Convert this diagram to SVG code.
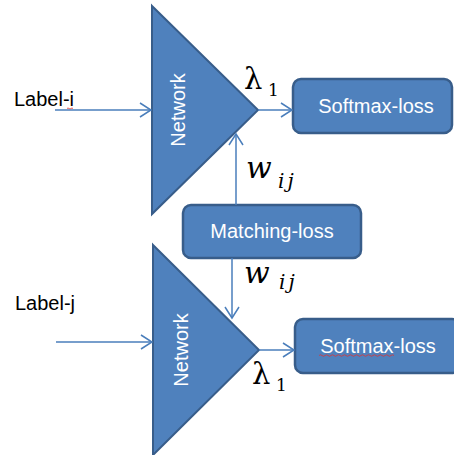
<svg xmlns="http://www.w3.org/2000/svg" width="454" height="455" viewBox="0 0 454 455">
<defs>
<marker id="arr" markerWidth="14" markerHeight="18" refX="12" refY="9" orient="auto" markerUnits="userSpaceOnUse">
<path d="M1,2 L12,9 L1,16" fill="none" stroke="#4A7EBB" stroke-width="1.5"/>
</marker>
</defs>
<style>
.tri{fill:#4F81BD;stroke:#385D8A;stroke-width:2}
.box{fill:#4F81BD;stroke:#385D8A;stroke-width:2.5}
.wt{fill:#fff;font-family:"Liberation Sans",Arial,sans-serif;font-size:20px}
.lbl{fill:#000;font-family:"Liberation Sans",Arial,sans-serif;font-size:20px}
.math{fill:#000;font-family:"DejaVu Serif","Liberation Serif",serif}
.c{stroke:#4A7EBB;stroke-width:1.5;fill:none}
.sq{fill:none;stroke:#d33;stroke-width:0.8}
</style>
<rect width="454" height="455" fill="#fff"/>
<g id="label-i"><text class="lbl" x="14" y="106">Label-i</text>
<path class="sq" d="M67,108.5 q1,-1 2,0 t2,0 t2,0"/></g>
<g id="label-j"><text class="lbl" x="15" y="310">Label-j</text></g>
<g id="network-top">
<polygon class="tri" points="152,6 258,110 152,214"/>
<text class="wt" transform="translate(185,110) rotate(-90)" text-anchor="middle">Network</text>
</g>
<g id="network-bottom">
<polygon class="tri" points="153,245 259,350 153,455"/>
<text class="wt" transform="translate(188,350) rotate(-90)" text-anchor="middle">Network</text>
</g>
<g id="softmax-top">
<rect class="box" x="293" y="79" width="159" height="54" rx="8"/>
<text class="wt" x="376" y="113" text-anchor="middle">Softmax-loss</text>
</g>
<g id="softmax-bottom">
<rect class="box" x="295" y="319" width="165" height="54" rx="8"/>
<text class="wt" x="378" y="353" text-anchor="middle">Softmax-loss</text>
<path class="sq" d="M319,355.5 q1.5,-1.5 3,0 t3,0 t3,0 t3,0 t3,0 t3,0 t3,0 t3,0 t3,0 t3,0 t3,0 t3,0 t3,0 t3,0 t3,0 t3,0 t3,0 t3,0 t3,0 t3,0 t3,0 t3,0 t3,0 t3,0 t3,0"/>
</g>
<g id="matching-loss">
<rect class="box" x="183" y="205" width="178" height="53" rx="8"/>
<text class="wt" x="272" y="238" text-anchor="middle">Matching-loss</text>
</g>
<g id="connectors">
<line class="c" x1="55" y1="110" x2="151" y2="110" marker-end="url(#arr)"/>
<line class="c" x1="258" y1="110" x2="292" y2="110" marker-end="url(#arr)"/>
<line class="c" x1="236" y1="205" x2="236" y2="134" marker-end="url(#arr)"/>
<line class="c" x1="232" y1="258" x2="232" y2="318" marker-end="url(#arr)"/>
<line class="c" x1="56" y1="342" x2="152" y2="342" marker-end="url(#arr)"/>
<line class="c" x1="259" y1="350" x2="294" y2="350" marker-end="url(#arr)"/>
</g>
<g id="math-labels">
<text class="math" x="244" y="89" font-size="29">λ</text>
<text class="math" x="268" y="96" font-size="17">1</text>
<text class="math" x="246" y="178" font-size="30" font-style="italic">w</text>
<text class="math" x="278" y="188" font-size="20" font-style="italic" letter-spacing="3">ij</text>
<text class="math" x="244" y="283" font-size="30" font-style="italic">w</text>
<text class="math" x="279" y="289" font-size="20" font-style="italic" letter-spacing="3">ij</text>
<text class="math" x="252" y="384" font-size="29">λ</text>
<text class="math" x="276" y="391" font-size="17">1</text>
</g>
</svg>
